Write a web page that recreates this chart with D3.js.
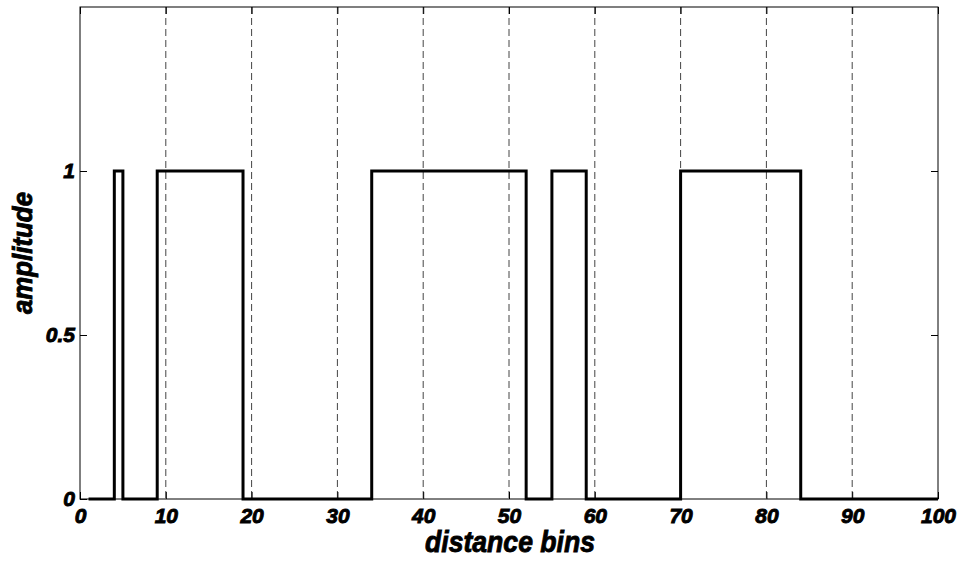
<!DOCTYPE html>
<html>
<head>
<meta charset="utf-8">
<script src="https://cdn.jsdelivr.net/npm/d3@7"></script>
<style>
body { margin: 0; background: #fff; }
text { font-family: "Liberation Sans", Arial, sans-serif; font-weight: bold; font-style: italic; fill: #000; stroke: #000; stroke-width: 0.9px; }
</style>
</head>
<body>
<svg id="chart" width="967" height="564"></svg>
<script>
// distance bins 1..100 and the amplitude in each bin
var bins = d3.range(1, 101);
var amplitude = [
	0,0,0,1,0,0,0,0,1,1, 1,1,1,1,1,1,1,1,0,0,
	0,0,0,0,0,0,0,0,0,0, 0,0,0,1,1,1,1,1,1,1,
	1,1,1,1,1,1,1,1,1,1, 1,0,0,0,1,1,1,1,0,0,
	0,0,0,0,0,0,0,0,0,1, 1,1,1,1,1,1,1,1,1,1,
	1,1,1,0,0,0,0,0,0,0, 0,0,0,0,0,0,0,0,0,0
];
var xTicks = [0,10,20,30,40,50,60,70,80,90,100];
var yTicks = [0,0.5,1];
var gridX = [10,20,30,40,50,60,70,80,90];

var mLeft = 80, mRight = 938, mTop = 7, mBottom = 499;
var svg = d3.select("#chart");

var x = d3.scaleLinear().domain([0,100]).range([mLeft,mRight]);
var y = d3.scaleLinear().domain([0,1.5]).range([mBottom,mTop]);

// dashed grid
svg.selectAll(".grid").data(gridX).enter().append("line")
	.attr("class","grid")
	.attr("x1", function(d){ return x(d)}).attr("x2", function(d){ return x(d)})
	.attr("y1", mTop).attr("y2", mBottom)
	.style("stroke","#444").style("stroke-width",1).style("stroke-dasharray","7,4");

// axes with inward ticks
svg.append("g").attr("transform","translate(0,"+mBottom+")")
	.call(d3.axisBottom(x).tickValues(xTicks).tickSize(-7).tickPadding(9).tickFormat(d3.format("d")))
	.call(function(g){ g.select(".domain").remove(); g.selectAll("text").style("font-size","21px"); });
svg.append("g").attr("transform","translate(0,"+mTop+")")
	.call(d3.axisTop(x).tickValues(xTicks).tickSize(-7).tickFormat(""))
	.call(function(g){ g.select(".domain").remove(); });
svg.append("g").attr("transform","translate("+mLeft+",0)")
	.call(d3.axisLeft(y).tickValues(yTicks).tickSize(-7).tickPadding(5).tickFormat(function(d){ return d===0.5 ? "0.5" : d3.format("d")(d)}))
	.call(function(g){ g.select(".domain").remove(); g.selectAll("text").style("font-size","21px"); });
svg.append("g").attr("transform","translate("+mRight+",0)")
	.call(d3.axisRight(y).tickValues(yTicks).tickSize(-7).tickFormat(""))
	.call(function(g){ g.select(".domain").remove(); });
svg.selectAll(".tick line").style("stroke","#000");

svg.append("rect").attr("x",mLeft).attr("y",mTop).attr("width",mRight-mLeft).attr("height",mBottom-mTop)
	.style("fill","none").style("stroke","#000").style("stroke-width",1);

// the step signal
var line = d3.line()
	.x(function(d,i){ return x(bins[i])})
	.y(function(d){ return y(d)})
	.curve(d3.curveStepAfter);
svg.append("path").datum(amplitude)
	.attr("d", line)
	.style("fill","none").style("stroke","#000").style("stroke-width",3);

// labels
svg.append("text").attr("x",510).attr("y",552)
	.attr("text-anchor","middle").style("font-size","30px")
	.attr("textLength",170).attr("lengthAdjust","spacingAndGlyphs").text("distance bins");
svg.append("text").attr("transform","translate(32,253) rotate(-90)")
	.attr("text-anchor","middle").style("font-size","28px")
	.attr("textLength",122).attr("lengthAdjust","spacingAndGlyphs").text("amplitude");
</script>
</body>
</html>
